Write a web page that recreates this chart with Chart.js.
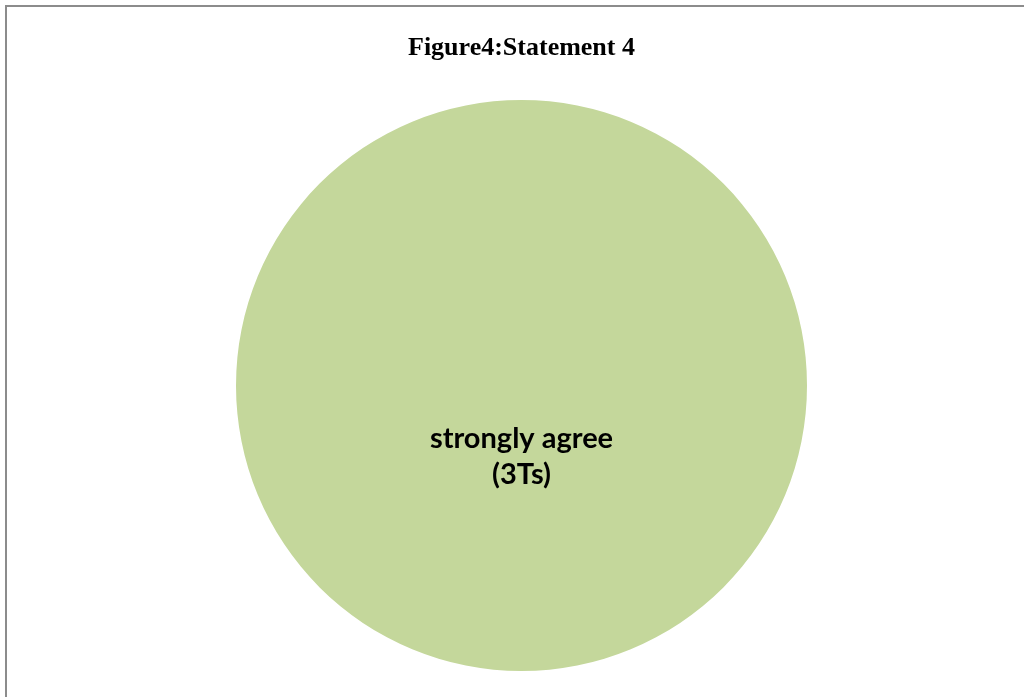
<!DOCTYPE html>
<html>
<head>
<meta charset="utf-8">
<script src="https://cdn.jsdelivr.net/npm/chart.js@4.4.0/dist/chart.umd.min.js"></script>
<style>
  html, body { margin: 0; padding: 0; background: #ffffff; overflow: hidden; }
  #frame { position: absolute; left: 5px; top: 5px; width: 2000px; height: 2000px;
           border-left: 2px solid #8c8c8c; border-top: 2px solid #8c8c8c; }
  #wrap { position: absolute; left: 0; top: 0; width: 1024px; height: 697px; }
</style>
</head>
<body>
<div id="frame"></div>
<div id="wrap"><canvas id="c" width="1024" height="697"></canvas></div>
<script>
const categories = ["strongly agree\n(3Ts)"];
const values = [3];
const sliceColors = ["#C4D79B"];
const titleText = "Figure4:Statement 4";

const labelPlugin = {
  id: 'sliceLabel',
  afterDatasetsDraw(chart) {
    const ctx = chart.ctx;
    const meta = chart.getDatasetMeta(0);
    meta.data.forEach((arc, i) => {
      const lines = categories[i].split("\n");
      ctx.save();
      ctx.fillStyle = "#000000";
      ctx.font = "bold 29px Lato, 'Open Sans', sans-serif";
      ctx.textAlign = "center";
      ctx.textBaseline = "alphabetic";
      lines.forEach((ln, k) => {
        ctx.fillText(ln, arc.x, arc.y + 62 + k * 36);
      });
      ctx.restore();
    });
  }
};

new Chart(document.getElementById('c'), {
  type: 'pie',
  data: {
    labels: categories,
    datasets: [{
      data: values,
      backgroundColor: sliceColors,
      borderWidth: 0
    }]
  },
  options: {
    responsive: false,
    animation: false,
    layout: { padding: { left: 19, right: 0, top: 0, bottom: 26 } },
    plugins: {
      legend: { display: false },
      tooltip: { enabled: false },
      title: {
        display: true,
        text: titleText,
        color: "#000000",
        font: { family: "'Liberation Serif', serif", size: 26, weight: 'bold', lineHeight: 1.2 },
        padding: { top: 32.4, bottom: 36.4 }
      }
    }
  },
  plugins: [labelPlugin]
});
</script>
</body>
</html>
